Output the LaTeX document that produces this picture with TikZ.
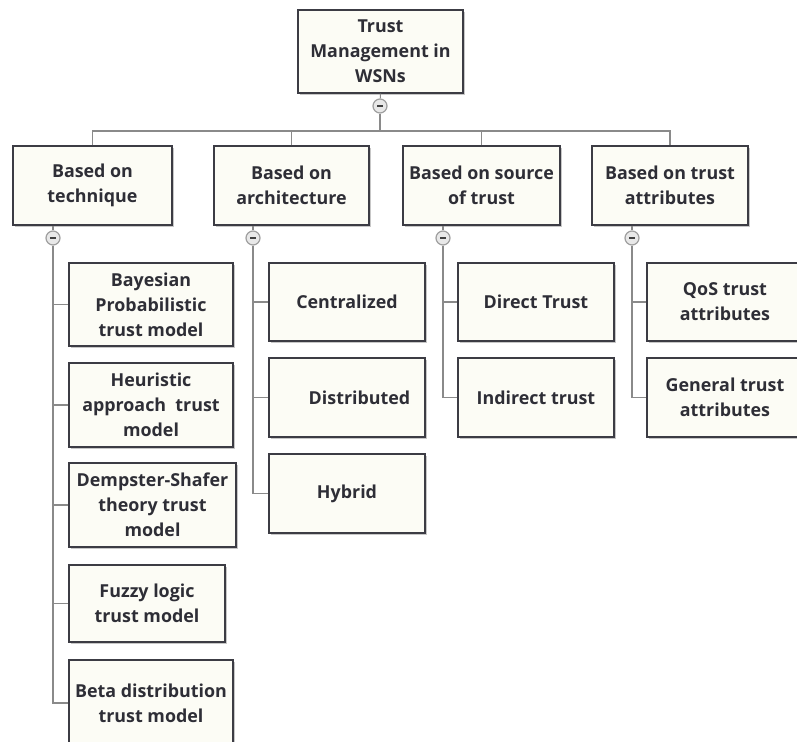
\documentclass[tikz,border=0pt]{standalone}
\usepackage{fontspec}
\setmainfont{Open Sans}
\usetikzlibrary{shadows}
\definecolor{boxfill}{HTML}{FCFCF5}
\definecolor{boxline}{HTML}{3C3C44}
\definecolor{wire}{HTML}{8A8A8A}
\definecolor{txt}{HTML}{2E2E36}
\tikzset{
  box/.style 2 args={draw=boxline, line width=0.8pt, fill=boxfill,
    minimum width=#1*0.75pt, minimum height=#2*0.75pt, inner sep=0pt,
    align=center, text=txt, font=\bfseries\fontsize{13.4}{18.75}\selectfont,
    drop shadow={shadow xshift=1.6pt, shadow yshift=-1.6pt, opacity=0.4, fill=black!55}},
  toggle/.style={circle, draw=gray!75, line width=0.9pt, fill=gray!18,
    minimum size=10.5pt, inner sep=0pt, text=black!75},
  wireline/.style={draw=wire, line width=0.8pt},
}
\newcommand{\minus}{\rule{4.5pt}{1.4pt}}
\begin{document}
\begin{tikzpicture}[x=0.75pt, y=-0.75pt]
  \fill[white] (0,0) rectangle (797,742);
  \useasboundingbox (0,0) rectangle (797,742);
  \clip (0,0) rectangle (797,742);

  % root
  \node[box={165}{83}] (root) at (380.5,51.5) {Trust\\Management in\\WSNs};
  \node[toggle] (t0) at (380,106) {\minus};

  % first level
  \node[box={159}{79}] (tech) at (92.5,185.5) {Based on\\technique};
  \node[box={155}{79}] (arch) at (291.5,185.5) {Based on\\architecture};
  \node[box={157}{79}] (src)  at (481.5,185.5) {Based on source\\of trust};
  \node[box={156}{79}] (attr) at (670,185.5) {Based on trust\\attributes};

  \coordinate (bus) at (380,131);
  \draw[wireline] (root.south) -- (t0);
  \draw[wireline] (t0) -- (bus);
  \draw[wireline] (tech.north) |- (bus) -| (attr.north);
  \draw[wireline] (arch.north) -- (arch.north |- bus);
  \draw[wireline] (src.north) -- (src.north |- bus);

  % toggles under first level
  \node[toggle] (t1) at (53,238) {\minus};
  \node[toggle] (t2) at (253,238) {\minus};
  \node[toggle] (t3) at (443,238) {\minus};
  \node[toggle] (t4) at (632,238) {\minus};
  \draw[wireline] (t1 |- tech.south) -- (t1);
  \draw[wireline] (t2 |- arch.south) -- (t2);
  \draw[wireline] (t3 |- src.south) -- (t3);
  \draw[wireline] (t4 |- attr.south) -- (t4);

  % technique branch
  \node[box={164}{83}] (bay) at (151,304.5) {Bayesian\\Probabilistic\\trust model};
  \node[box={164}{84}] (heu) at (151,405) {Heuristic\\approach\ \ trust\\model};
  \node[box={167}{84}] (dem) at (152.5,505) {Dempster-Shafer\\theory trust\\model};
  \node[box={156}{77}] (fuz) at (147,603.5) {Fuzzy logic\\trust model};
  \node[box={164}{86}] (bet) at (151,703) {Beta distribution\\trust model};
  \draw[wireline] (t1) |- (bet.west);
  \foreach \n in {bay,heu,dem,fuz} \draw[wireline] (t1 |- \n.west) -- (\n.west);

  % architecture branch
  \node[box={156}{78}] (cen) at (347,302) {Centralized};
  \node[box={156}{79}] (dis) at (347,397.5) {\hspace*{1.4em}Distributed};
  \node[box={156}{79}] (hyb) at (347,493.5) {Hybrid};
  \draw[wireline] (t2) |- (hyb.west);
  \foreach \n in {cen,dis} \draw[wireline] (t2 |- \n.west) -- (\n.west);

  % source-of-trust branch
  \node[box={156}{78}] (dir) at (536,302) {Direct Trust};
  \node[box={156}{79}] (ind) at (536,397.5) {Indirect trust};
  \draw[wireline] (t3) |- (ind.west);
  \draw[wireline] (t3 |- dir.west) -- (dir.west);

  % attributes branch
  \node[box={156}{78}] (qos) at (725,302) {QoS trust\\attributes};
  \node[box={156}{79}] (gen) at (725,397.5) {General trust\\attributes};
  \draw[wireline] (t4) |- (gen.west);
  \draw[wireline] (t4 |- qos.west) -- (qos.west);
\end{tikzpicture}
\end{document}
